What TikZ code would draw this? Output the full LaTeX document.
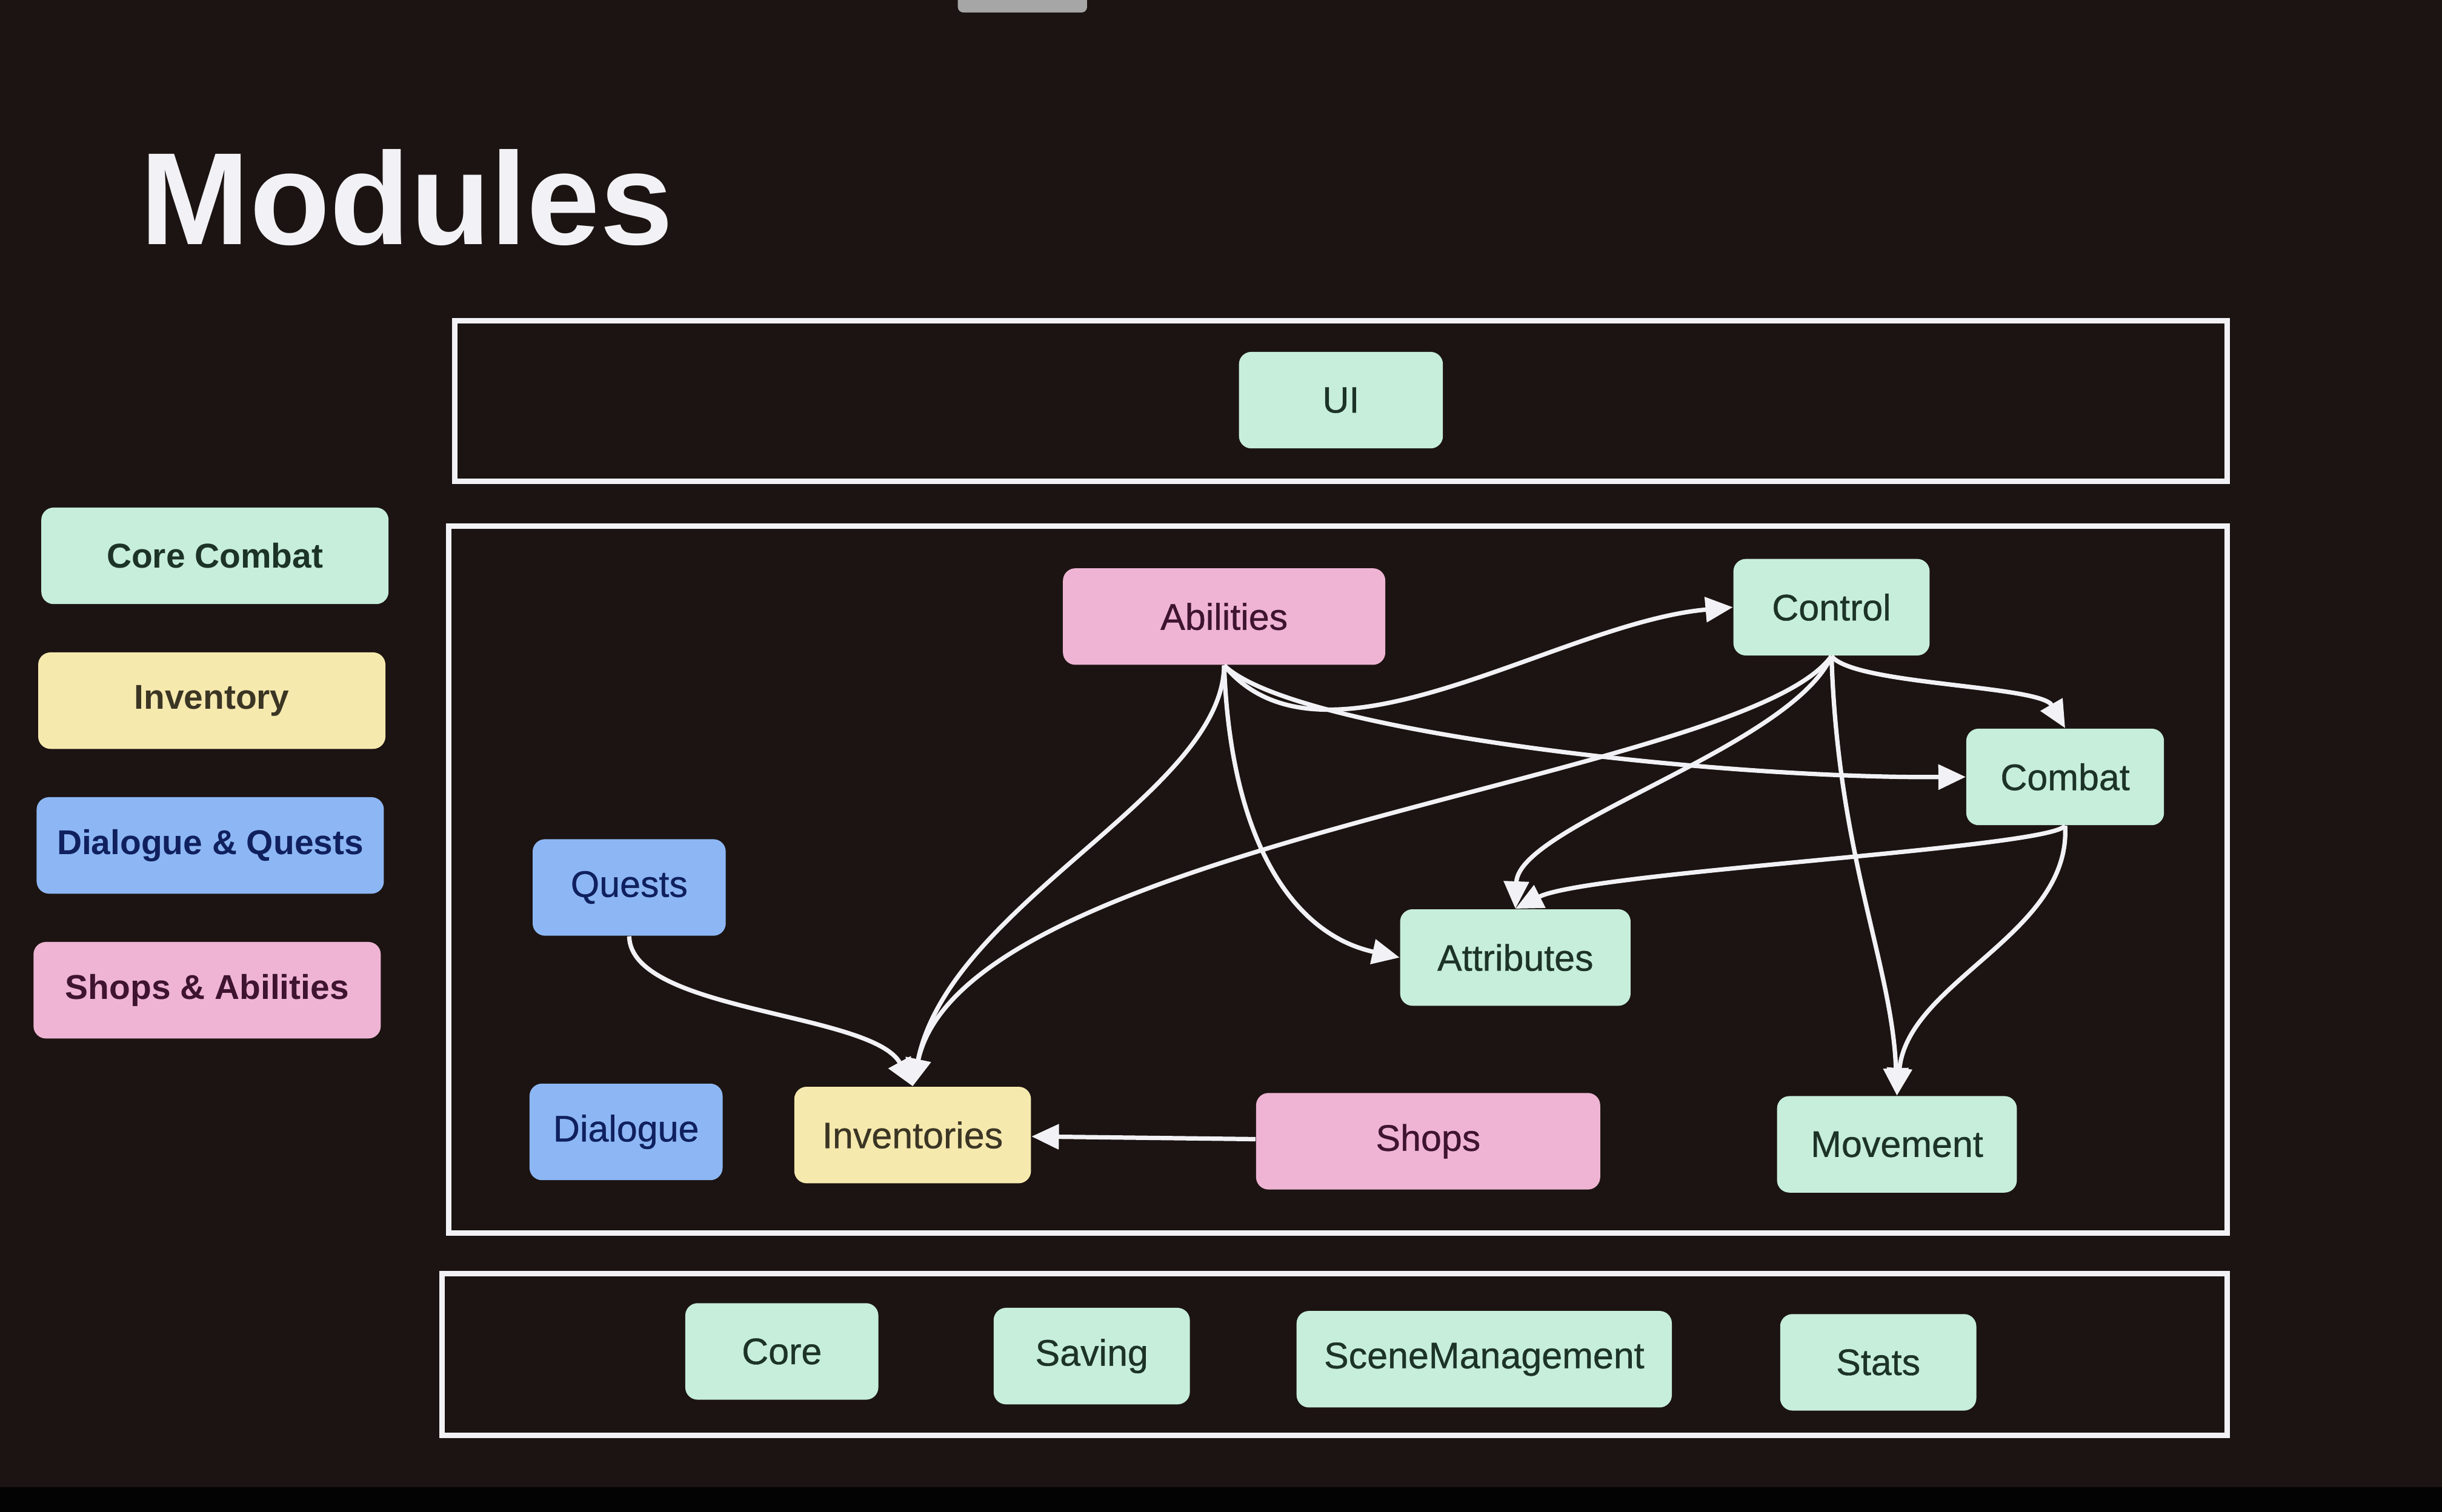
\documentclass[tikz,border=0pt]{standalone}
\usepackage{fontspec}
\setmainfont{Liberation Sans}
\newfontface\modfont{Liberation Sans}[FakeBold=0.6]
\usetikzlibrary{arrows.meta}

\definecolor{bgdark}{HTML}{1C1412}
\definecolor{framewhite}{HTML}{F2F2F6}
\definecolor{mintfill}{HTML}{C6EEDB}
\definecolor{minttext}{HTML}{1D3327}
\definecolor{sandfill}{HTML}{F6E9AE}
\definecolor{sandtext}{HTML}{3B3524}
\definecolor{skyfill}{HTML}{8DB7F4}
\definecolor{skytext}{HTML}{10205E}
\definecolor{rosefill}{HTML}{EFB4D4}
\definecolor{rosetext}{HTML}{3E1430}

\tikzset{
  module/.style={rounded corners=4.5pt, minimum height=1.24cm, inner sep=0pt,
    font=\modfont\fontsize{13.5}{16}\selectfont},
  combatmod/.style={module, fill=mintfill, text=minttext},
  invmod/.style={module, fill=sandfill, text=sandtext},
  questmod/.style={module, fill=skyfill, text=skytext},
  shopmod/.style={module, fill=rosefill, text=rosetext},
  legendbox/.style={minimum width=4.46cm, font=\fontsize{12.6}{15}\selectfont\bfseries},
  layer/.style={draw=framewhite, line width=2pt},
  link/.style={draw=framewhite, line width=1.6pt, -{Triangle[length=10pt,width=9pt]}}
}

\begin{document}
\begin{tikzpicture}[x=0.02cm, y=-0.02cm]
  % background
  \fill[bgdark] (0,0) rectangle (1568,971);
  \useasboundingbox (0,0) rectangle (1568,971);
  \fill[black!85!bgdark] (0,955) rectangle (1568,971);
  \fill[gray!70, rounded corners=2pt] (615,-4) rectangle (698,8);

  % title
  \node[anchor=base west, text=framewhite, font=\fontsize{48}{58}\selectfont\bfseries]
    (title) at (84,157) {Modules};

  % layers
  \draw[layer] (292,206) rectangle (1430,309);
  \draw[layer] (288,338) rectangle (1430,792);
  \draw[layer] (284,818) rectangle (1430,922);

  % legend
  \node[combatmod, legendbox] (lgcombat) at (138,357) {Core Combat};
  \node[invmod, legendbox]    (lginv)    at (136,450) {Inventory};
  \node[questmod, legendbox]  (lgquest)  at (135,543) {Dialogue \& Quests};
  \node[shopmod, legendbox]   (lgshop)   at (133,636) {Shops \& Abilities};

  % top layer
  \node[combatmod, minimum width=2.62cm] (ui) at (861,257) {UI};

  % middle layer
  \node[shopmod, minimum width=4.14cm]   (abl) at (786,396) {Abilities};
  \node[combatmod, minimum width=2.52cm] (ctl) at (1176,390) {Control};
  \node[combatmod, minimum width=2.54cm] (cmb) at (1326,499) {Combat};
  \node[questmod, minimum width=2.48cm]  (qst) at (404,570) {Quests};
  \node[combatmod, minimum width=2.96cm] (att) at (973,615) {Attributes};
  \node[questmod, minimum width=2.48cm]  (dlg) at (402,727) {Dialogue};
  \node[invmod, minimum width=3.04cm]    (inv) at (586,729) {Inventories};
  \node[shopmod, minimum width=4.42cm]   (shp) at (917,733) {Shops};
  \node[combatmod, minimum width=3.08cm] (mov) at (1218,735) {Movement};

  % bottom layer
  \node[combatmod, minimum width=2.48cm] (core) at (502,868) {Core};
  \node[combatmod, minimum width=2.52cm] (sav)  at (701,871) {Saving};
  \node[combatmod, minimum width=4.82cm] (scn)  at (953,873) {SceneManagement};
  \node[combatmod, minimum width=2.52cm] (sts)  at (1206,875) {Stats};

  % dependencies
  \draw[link] (abl.south) .. controls (850,505) and (1000,400) .. (ctl.west);
  \draw[link] (abl.south) .. controls (830,470) and (1100,500) .. (cmb.west);
  \draw[link] (abl.south) .. controls (790,540) and (830,600) .. (att.west);
  \draw[link] (abl.south) .. controls (785,510) and (610,580) .. (inv.north);
  \draw[link] (ctl.south) .. controls (1120,500) and (620,540) .. (inv.north);
  \draw[link] (ctl.south) .. controls (1150,480) and (975,530) .. (att.north);
  \draw[link] (ctl.south) .. controls (1190,440) and (1310,440) .. (cmb.north);
  \draw[link] (ctl.south) .. controls (1180,550) and (1215,620) .. (mov.north);
  \draw[link] (cmb.south) .. controls (1315,545) and (1020,560) .. (att.north);
  \draw[link] (cmb.south) .. controls (1330,600) and (1225,630) .. (mov.north);
  \draw[link] (qst.south) .. controls (405,650) and (560,650) .. (inv.north);
  \draw[link] (shp) -- (inv);
\end{tikzpicture}
\end{document}
